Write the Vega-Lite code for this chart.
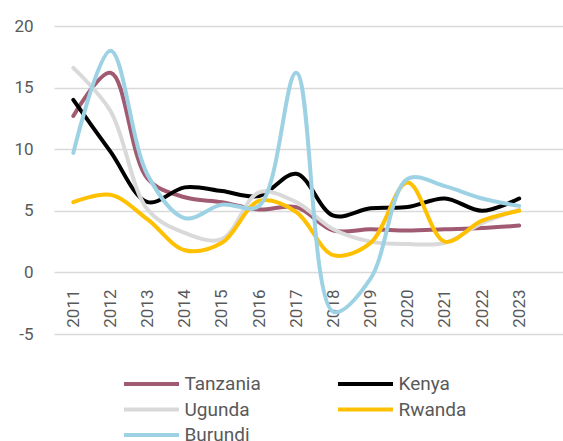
{
  "$schema": "https://vega.github.io/schema/vega-lite/v6.json",
  "width": 509,
  "height": 308,
  "autosize": "none",
  "padding": {"left": 54, "top": 26, "right": 0, "bottom": 107},
  "config": {
    "view": {"stroke": null},
    "font": "Roboto",
    "axis": {"labelFont": "Roboto", "labelColor": "#595959", "labelFontSize": 17},
    "legend": {"labelFont": "Roboto", "labelColor": "#595959", "labelFontSize": 19}
  },
  "data": {
    "values": [
      {"year": 2011, "country": "Tanzania", "value": 12.7},
      {"year": 2012, "country": "Tanzania", "value": 16.2},
      {"year": 2013, "country": "Tanzania", "value": 7.6},
      {"year": 2014, "country": "Tanzania", "value": 6.1},
      {"year": 2015, "country": "Tanzania", "value": 5.7},
      {"year": 2016, "country": "Tanzania", "value": 5.1},
      {"year": 2017, "country": "Tanzania", "value": 5.3},
      {"year": 2018, "country": "Tanzania", "value": 3.4},
      {"year": 2019, "country": "Tanzania", "value": 3.5},
      {"year": 2020, "country": "Tanzania", "value": 3.4},
      {"year": 2021, "country": "Tanzania", "value": 3.5},
      {"year": 2022, "country": "Tanzania", "value": 3.6},
      {"year": 2023, "country": "Tanzania", "value": 3.8},
      {"year": 2011, "country": "Kenya", "value": 14.0},
      {"year": 2012, "country": "Kenya", "value": 9.8},
      {"year": 2013, "country": "Kenya", "value": 5.7},
      {"year": 2014, "country": "Kenya", "value": 6.9},
      {"year": 2015, "country": "Kenya", "value": 6.6},
      {"year": 2016, "country": "Kenya", "value": 6.2},
      {"year": 2017, "country": "Kenya", "value": 8.0},
      {"year": 2018, "country": "Kenya", "value": 4.6},
      {"year": 2019, "country": "Kenya", "value": 5.2},
      {"year": 2020, "country": "Kenya", "value": 5.3},
      {"year": 2021, "country": "Kenya", "value": 6.0},
      {"year": 2022, "country": "Kenya", "value": 5.0},
      {"year": 2023, "country": "Kenya", "value": 6.0},
      {"year": 2011, "country": "Ugunda", "value": 16.6},
      {"year": 2012, "country": "Ugunda", "value": 13.1},
      {"year": 2013, "country": "Ugunda", "value": 5.1},
      {"year": 2014, "country": "Ugunda", "value": 3.2},
      {"year": 2015, "country": "Ugunda", "value": 2.7},
      {"year": 2016, "country": "Ugunda", "value": 6.5},
      {"year": 2017, "country": "Ugunda", "value": 5.7},
      {"year": 2018, "country": "Ugunda", "value": 3.5},
      {"year": 2019, "country": "Ugunda", "value": 2.5},
      {"year": 2020, "country": "Ugunda", "value": 2.3},
      {"year": 2021, "country": "Ugunda", "value": 2.4},
      {"year": 2022, "country": "Ugunda", "value": 4.0},
      {"year": 2023, "country": "Ugunda", "value": 5.1},
      {"year": 2011, "country": "Rwanda", "value": 5.7},
      {"year": 2012, "country": "Rwanda", "value": 6.3},
      {"year": 2013, "country": "Rwanda", "value": 4.3},
      {"year": 2014, "country": "Rwanda", "value": 1.8},
      {"year": 2015, "country": "Rwanda", "value": 2.4},
      {"year": 2016, "country": "Rwanda", "value": 5.8},
      {"year": 2017, "country": "Rwanda", "value": 4.9},
      {"year": 2018, "country": "Rwanda", "value": 1.4},
      {"year": 2019, "country": "Rwanda", "value": 2.4},
      {"year": 2020, "country": "Rwanda", "value": 7.3},
      {"year": 2021, "country": "Rwanda", "value": 2.5},
      {"year": 2022, "country": "Rwanda", "value": 4.2},
      {"year": 2023, "country": "Rwanda", "value": 5.0},
      {"year": 2011, "country": "Burundi", "value": 9.7},
      {"year": 2012, "country": "Burundi", "value": 18.0},
      {"year": 2013, "country": "Burundi", "value": 7.9},
      {"year": 2014, "country": "Burundi", "value": 4.4},
      {"year": 2015, "country": "Burundi", "value": 5.5},
      {"year": 2016, "country": "Burundi", "value": 5.4},
      {"year": 2017, "country": "Burundi", "value": 16.2},
      {"year": 2018, "country": "Burundi", "value": -3.2},
      {"year": 2019, "country": "Burundi", "value": -0.5},
      {"year": 2020, "country": "Burundi", "value": 7.6},
      {"year": 2021, "country": "Burundi", "value": 7.0},
      {"year": 2022, "country": "Burundi", "value": 6.0},
      {"year": 2023, "country": "Burundi", "value": 5.4}
    ]
  },
  "mark": {"type": "line", "interpolate": "catmull-rom", "strokeWidth": 4, "strokeCap": "round", "clip": false},
  "encoding": {
    "x": {
      "field": "year",
      "type": "quantitative",
      "scale": {"domain": [2010.48, 2024.18], "nice": false, "zero": false},
      "axis": {
        "title": null,
        "values": [2011, 2012, 2013, 2014, 2015, 2016, 2017, 2018, 2019, 2020, 2021, 2022, 2023],
        "format": "d",
        "labelAngle": -90,
        "labelAlign": "right",
        "labelBaseline": "middle",
        "labelPadding": 17,
        "offset": -62,
        "domain": false,
        "ticks": false,
        "grid": false,
        "labelFlush": false,
        "labelOverlap": false
      }
    },
    "y": {
      "field": "value",
      "type": "quantitative",
      "scale": {"domain": [-5, 20], "nice": false},
      "axis": {
        "title": null,
        "values": [-5, 0, 5, 10, 15, 20],
        "labelExpr": "'' + datum.value",
        "domain": false,
        "ticks": false,
        "labelPadding": 21,
        "gridColor": "#D9D9D9",
        "gridWidth": 1.5
      }
    },
    "color": {
      "field": "country",
      "type": "nominal",
      "sort": ["Tanzania", "Kenya", "Ugunda", "Rwanda", "Burundi"],
      "scale": {
        "domain": ["Tanzania", "Kenya", "Ugunda", "Rwanda", "Burundi"],
        "range": ["#A05A72", "#000000", "#D9D9D9", "#FFC000", "#9DD2E5"]
      },
      "legend": {
        "title": null,
        "orient": "none",
        "legendX": 85.5,
        "legendY": 346,
        "direction": "horizontal",
        "columns": 2,
        "columnPadding": 68,
        "rowPadding": 3.5,
        "symbolType": "M-2.75,0H2.75",
        "symbolSize": 400,
        "symbolStrokeWidth": 4,
        "labelOffset": 21,
        "padding": 0
      }
    }
  }
}
